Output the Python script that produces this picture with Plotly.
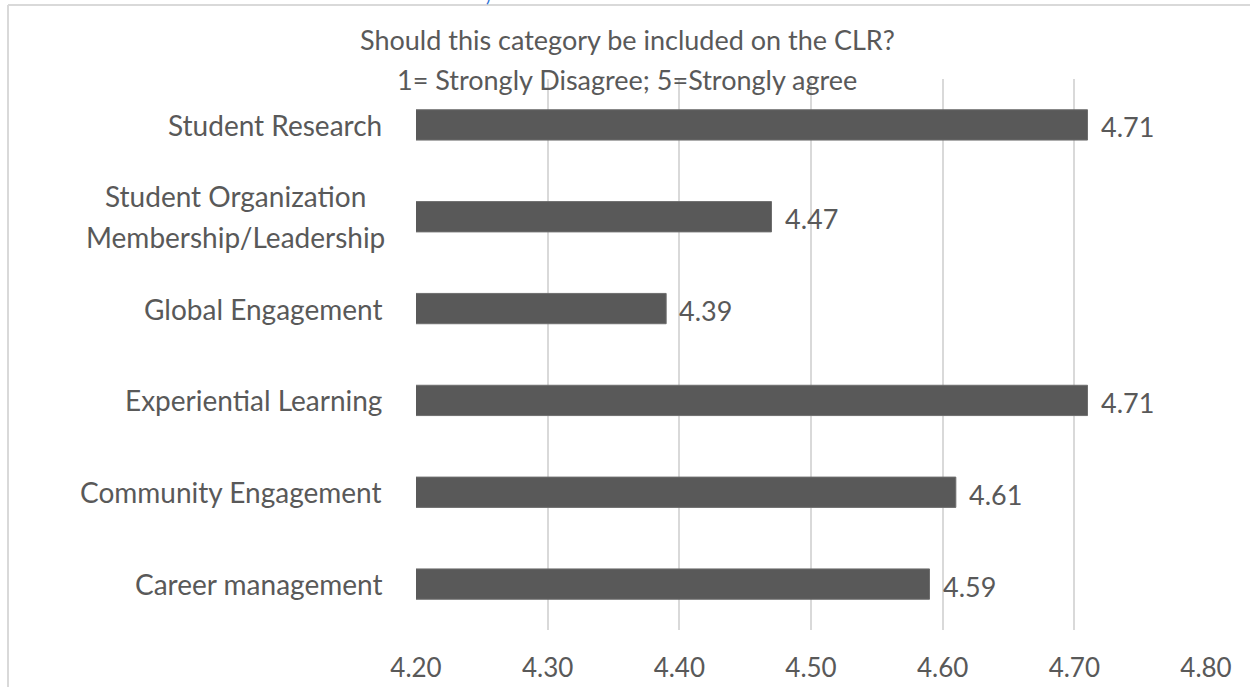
import plotly.graph_objects as go

categories = [
    "Student Research",
    "Student Organization<br>Membership/Leadership",
    "Global Engagement",
    "Experiential Learning",
    "Community Engagement",
    "Career management",
]
values = [4.71, 4.47, 4.39, 4.71, 4.61, 4.59]
x_ticks = [4.20, 4.30, 4.40, 4.50, 4.60, 4.70, 4.80]
title_lines = ["Should this category be included on the CLR?", "1= Strongly Disagree; 5=Strongly agree"]

W, H = 1250, 687
ML, MR, MT, MB = 416, 44, 79, 57
PW, PH = W - ML - MR, H - MT - MB
FONT = "Lato"
FS_CAT = 28
FS_TITLE = 27
FS_TICK = 26
FS_VAL = 27
TXT = "#595959"
LABEL_GAP = 32


def px_x(px):
    return (px - ML) / PW


def px_y(py):
    return (H - MB - py) / PH


fig = go.Figure()
fig.add_trace(go.Bar(
    x=values,
    y=categories,
    orientation="h",
    marker=dict(color="#595959", line=dict(color="#6e6e6e", width=1)),
    width=0.33,
    hoverinfo="skip",
))

annotations = []
# category labels (multi-line labels: lines centred within the block, block right-aligned)
for cat in categories:
    lines = cat.split("<br>")
    n = len(lines)
    if n == 1:
        annotations.append(dict(
            x=0, xref="paper", y=cat, yref="y", text=cat, showarrow=False,
            xanchor="right", yanchor="middle", xshift=-LABEL_GAP,
            font=dict(family=FONT, size=FS_CAT, color=TXT),
        ))
    else:
        est_w = 0.505 * FS_CAT * max(len(s) for s in lines)
        for i, ln in enumerate(lines):
            annotations.append(dict(
                x=0, xref="paper", y=cat, yref="y", text=ln, showarrow=False,
                xanchor="center", yanchor="middle", xshift=-(LABEL_GAP + est_w / 2),
                font=dict(family=FONT, size=FS_CAT, color=TXT),
                yshift=((n - 1) / 2 - i) * 41,
            ))
# value labels
for cat, v in zip(categories, values):
    annotations.append(dict(
        x=v, xref="x", y=cat, yref="y", text=f"{v:.2f}", showarrow=False,
        xanchor="left", yanchor="middle", xshift=11, yshift=-2,
        font=dict(family=FONT, size=FS_VAL, color=TXT),
    ))
# title lines
for i, t in enumerate(title_lines):
    annotations.append(dict(
        x=px_x(627), xref="paper", y=px_y(39 + 40 * i), yref="paper", text=t,
        showarrow=False, xanchor="center", yanchor="middle",
        font=dict(family=FONT, size=FS_TITLE, color=TXT),
    ))
# small blue artifact at the top
annotations.append(dict(
    x=px_x(488), xref="paper", y=px_y(8), yref="paper", text=")",
    showarrow=False, xanchor="center", yanchor="bottom",
    font=dict(family=FONT, size=18, color="#2a6fd6"),
))

shapes = [
    dict(type="line", xref="paper", yref="paper", x0=px_x(8), x1=px_x(W + 5),
         y0=px_y(5), y1=px_y(5), line=dict(color="#d9d9d9", width=2)),
    dict(type="line", xref="paper", yref="paper", x0=px_x(8), x1=px_x(8),
         y0=px_y(5), y1=px_y(H + 5), line=dict(color="#d9d9d9", width=2)),
]

fig.update_layout(
    width=W, height=H, autosize=False,
    margin=dict(l=ML, r=MR, t=MT, b=MB, pad=0, autoexpand=False),
    paper_bgcolor="white", plot_bgcolor="white",
    showlegend=False,
    font=dict(family=FONT, size=FS_TICK, color=TXT),
    xaxis=dict(
        range=[4.2, 4.8], tickvals=x_ticks, ticktext=[f"{t:.2f}" for t in x_ticks],
        showgrid=True, gridcolor="#d9d9d9", gridwidth=1.5, zeroline=False, showline=False,
        ticks="outside", ticklen=15, tickcolor="rgba(0,0,0,0)", automargin=False,
        tickfont=dict(family=FONT, size=FS_TICK, color=TXT), fixedrange=True,
    ),
    yaxis=dict(
        categoryorder="array", categoryarray=categories, autorange="reversed",
        showticklabels=False, showgrid=False, zeroline=False, showline=False,
        fixedrange=True, automargin=False,
    ),
    annotations=annotations,
    shapes=shapes,
)

fig.write_html("out.html")
